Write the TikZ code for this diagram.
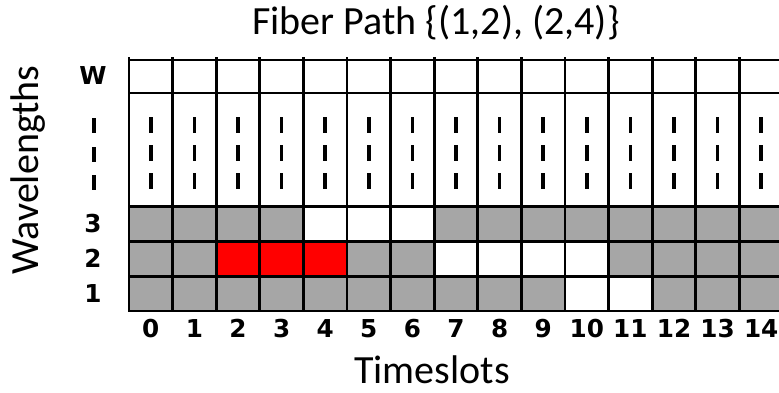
\documentclass[tikz,border=0pt]{standalone}
\usepackage{fontspec}
\setmainfont{Carlito}
\newfontfamily\numfont{DejaVu Sans}

\definecolor{slotgray}{RGB}{166,166,166}
\definecolor{slotred}{RGB}{255,0,0}

\tikzset{
	gridline/.style={line width=2.2pt},
	tick/.style={line width=2.6pt},
	lbl/.style={font=\numfont\bfseries\fontsize{18.5}{18.5}\selectfont, inner sep=0pt, anchor=base},
	axis/.style={font=\fontsize{30}{30}\selectfont, inner sep=0pt},
}

\begin{document}
\begin{tikzpicture}[x=0.75pt,y=-0.75pt]
	\useasboundingbox (0,0) rectangle (779,393);
	% slots per timeslot: wavelength 3 / 2 / 1
	\foreach \c/\three/\two/\one in {0/slotgray/slotgray/slotgray, 1/slotgray/slotgray/slotgray, 2/slotgray/slotred/slotgray, 3/slotgray/slotred/slotgray, 4/white/slotred/slotgray, 5/white/slotgray/slotgray, 6/white/slotgray/slotgray, 7/slotgray/white/slotgray, 8/slotgray/white/slotgray, 9/slotgray/white/slotgray, 10/slotgray/white/white, 11/slotgray/slotgray/white, 12/slotgray/slotgray/slotgray, 13/slotgray/slotgray/slotgray, 14/slotgray/slotgray/slotgray} {
		\pgfmathsetmacro\xl{129+43.6*\c}
		\fill[\three] (\xl,206.5) rectangle ++(43.6,35);
		\fill[\two] (\xl,241.5) rectangle ++(43.6,34.8);
		\fill[\one] (\xl,276.3) rectangle ++(43.6,34.7);
		\foreach \ya in {117,145,173}
			\draw[tick] (\xl+21.8,\ya) -- ++(0,16);
		\node[lbl] (t\c) at (\xl+21.8,337) {\c};
	}
	% grid
	\foreach \y in {60,93,206.5,241.5,276.3,311}
		\draw[gridline] (128,\y) -- (790,\y);
	\foreach \c in {0,...,15}
		\draw[gridline] (129+43.6*\c,57) -- (129+43.6*\c,312);
	% wavelength labels
	\node[lbl] (lw) at (93,84) {W};
	\foreach \ya in {118,147,175}
		\draw[tick] (94,\ya) -- ++(0,15);
	\node[lbl] (l3) at (93,232) {3};
	\node[lbl] (l2) at (93,267) {2};
	\node[lbl] (l1) at (93,302) {1};
	\node[axis] (title) at (436,23) {Fiber Path \{(1,2), (2,4)\}};
	\node[axis, anchor=base] (xlab) at (432,383) {Timeslots};
	\node[axis, rotate=90] (ylab) at (28,170) {Wavelengths};
\end{tikzpicture}
\end{document}
